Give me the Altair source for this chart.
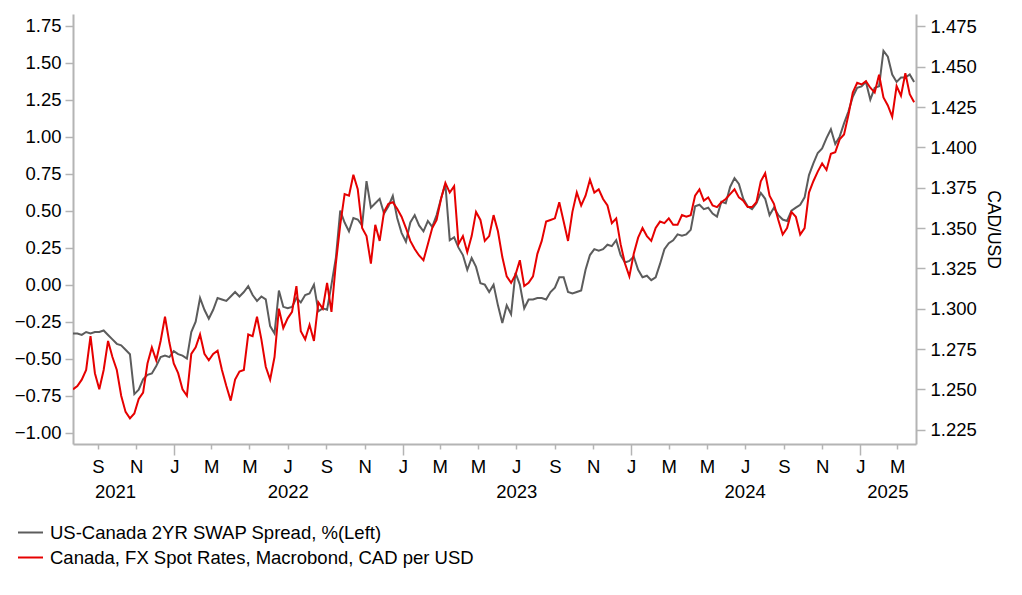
import altair as alt
import pandas as pd

START = "2021-07-23"

spread = [
    -0.33, -0.33, -0.34, -0.32, -0.33, -0.32, -0.32, -0.31, -0.34, -0.37,
    -0.40, -0.41, -0.44, -0.47, -0.74, -0.71, -0.64, -0.61, -0.60, -0.55,
    -0.49, -0.48, -0.49, -0.45, -0.47, -0.48, -0.50, -0.32, -0.25, -0.09,
    -0.17, -0.23, -0.17, -0.09, -0.10, -0.11, -0.08, -0.05, -0.08, -0.05,
    -0.01, -0.07, -0.11, -0.08, -0.10, -0.28, -0.33, -0.04, -0.15, -0.16,
    -0.15,
    -0.09, -0.12, -0.07, -0.06, 0.00, -0.18, -0.16, -0.17, 0.00, 0.18,
    0.50, 0.42, 0.36, 0.45, 0.44, 0.40, 0.70, 0.52, 0.55, 0.58,
    0.48, 0.53, 0.60, 0.45, 0.35, 0.29, 0.42, 0.47, 0.40, 0.36,
    0.43, 0.39, 0.47, 0.58, 0.68, 0.30, 0.32, 0.25, 0.20, 0.10,
    0.18, 0.12, 0.01, 0.00, -0.05, 0.00, -0.14, -0.26,
    -0.14, -0.20, 0.08, 0.00, -0.16, -0.10, -0.10, -0.09, -0.09, -0.10,
    -0.05, -0.02, 0.05, 0.05, -0.05, -0.06, -0.05, -0.04, 0.10, 0.20,
    0.24, 0.23, 0.24, 0.27, 0.26, 0.30, 0.20, 0.15, 0.16, 0.19,
    0.10, 0.05, 0.06, 0.03, 0.05, 0.14, 0.24, 0.28, 0.30, 0.34,
    0.33, 0.34, 0.37, 0.53, 0.54, 0.51, 0.52, 0.48,
    0.46, 0.56, 0.55, 0.66, 0.72, 0.68, 0.58, 0.53, 0.51, 0.55,
    0.62, 0.58, 0.47, 0.52, 0.47, 0.44, 0.43, 0.50, 0.52, 0.54,
    0.59, 0.74, 0.82, 0.89, 0.92, 0.99, 1.05, 0.95, 1.00, 1.09,
    1.17, 1.27, 1.33, 1.34, 1.37, 1.25, 1.33, 1.34, 1.58, 1.54,
    1.42, 1.37, 1.40, 1.40, 1.42, 1.37,
]

fx = [
    1.250, 1.252, 1.256, 1.262, 1.283, 1.260, 1.250, 1.262, 1.280, 1.270,
    1.262, 1.246, 1.236, 1.232, 1.235, 1.244, 1.248, 1.266, 1.276, 1.268,
    1.280, 1.295, 1.279, 1.266, 1.260, 1.250, 1.246, 1.272, 1.276, 1.284,
    1.272, 1.268, 1.272, 1.274, 1.262, 1.252, 1.243, 1.256, 1.261, 1.262,
    1.284, 1.283, 1.295, 1.281, 1.264, 1.256, 1.270, 1.300, 1.288, 1.294,
    1.298,
    1.314, 1.286, 1.281, 1.290, 1.280, 1.304, 1.300, 1.316, 1.298, 1.328,
    1.352, 1.371, 1.370, 1.383, 1.374, 1.350, 1.345, 1.328, 1.352, 1.342,
    1.360, 1.365, 1.366, 1.362, 1.357, 1.350, 1.342, 1.337, 1.333, 1.330,
    1.340, 1.350, 1.355, 1.368, 1.378, 1.372, 1.376, 1.340, 1.345, 1.335,
    1.345, 1.360, 1.355, 1.342, 1.345, 1.358, 1.348, 1.332,
    1.320, 1.316, 1.321, 1.330, 1.314, 1.316, 1.320, 1.334, 1.342, 1.354,
    1.355, 1.356, 1.366, 1.354, 1.342, 1.360, 1.372, 1.364, 1.370, 1.380,
    1.372, 1.374, 1.368, 1.364, 1.353, 1.356, 1.340, 1.328, 1.320, 1.334,
    1.344, 1.350, 1.345, 1.342, 1.350, 1.354, 1.353, 1.356, 1.352, 1.352,
    1.358, 1.357, 1.358, 1.370, 1.374, 1.367, 1.369, 1.364,
    1.363, 1.366, 1.368, 1.371, 1.374, 1.369, 1.367, 1.363, 1.363, 1.366,
    1.379, 1.384, 1.370, 1.365, 1.355, 1.346, 1.350, 1.360, 1.357, 1.346,
    1.350, 1.372, 1.379, 1.385, 1.390, 1.386, 1.396, 1.397, 1.405, 1.408,
    1.420, 1.434, 1.440, 1.439, 1.441, 1.437, 1.434, 1.445, 1.431, 1.426,
    1.419, 1.438, 1.432, 1.446, 1.433, 1.428,
]

years = ["2021", "2022", "2023", "2024", "2025"]
year_pos = ["2021-09-29", "2022-07-02", "2023-07-02", "2024-07-01", "2025-02-14"]

left_ticks = [-1.00, -0.75, -0.50, -0.25, 0.00, 0.25, 0.50, 0.75, 1.00, 1.25, 1.50, 1.75]
right_ticks = [1.225, 1.250, 1.275, 1.300, 1.325, 1.350, 1.375, 1.400, 1.425, 1.450, 1.475]

S1 = "US-Canada 2YR SWAP Spread, %(Left)"
S2 = "Canada, FX Spot Rates, Macrobond, CAD per USD"
GRAY = "#5c5c5c"
RED = "#e60000"
AXC = "#b4b4b4"
FONT = "Liberation Sans"
FS = 18.5

dates = pd.date_range(START, periods=len(spread), freq="7D")
df1 = pd.DataFrame({"date": dates, "value": spread, "series": S1})
df2 = pd.DataFrame({"date": dates, "value": fx, "series": S2})
dfy = pd.DataFrame({"date": pd.to_datetime(year_pos), "label": years})

month_ticks = pd.date_range("2021-09-01", "2025-03-01", freq="2MS")
tick_vals = [alt.DateTime(year=int(d.year), month=int(d.month), date=1) for d in month_ticks]

JAN = "month(datum.value) === 0"
xaxis = alt.Axis(
    values=tick_vals, format="%b", labelExpr="substring(datum.label, 0, 1)",
    title=None, grid=False, domainColor=AXC, domainWidth=2, tickColor=AXC,
    tickWidth=1.5,
    tickSize={"condition": {"test": JAN, "value": 11}, "value": 5},
    labelPadding={"condition": {"test": JAN, "value": 2}, "value": 8},
    labelFont=FONT, labelFontSize=FS, labelColor="black",
)
xenc = alt.X(
    "date:T",
    scale=alt.Scale(domain=[alt.DateTime(year=2021, month=7, date=23),
                            alt.DateTime(year=2025, month=3, date=31)]),
    axis=xaxis,
)
color = alt.Color(
    "series:N",
    scale=alt.Scale(domain=[S1, S2], range=[GRAY, RED]),
    legend=alt.Legend(
        orient="none", legendX=-56, legendY=505, direction="vertical",
        title=None, symbolType="stroke", symbolSize=625, symbolStrokeWidth=2,
        labelFont=FONT, labelFontSize=FS, labelColor="black", labelLimit=0,
        labelOffset=6, padding=0, rowPadding=2,
    ),
)

gray = alt.Chart(df1).mark_line(strokeWidth=2, clip=True).encode(
    x=xenc,
    y=alt.Y("value:Q",
            scale=alt.Scale(domain=[-1.077, 1.829], nice=False, zero=False),
            axis=alt.Axis(orient="left", values=left_ticks, format=".2f", title=None,
                          grid=False, domainColor=AXC, domainWidth=2, tickColor=AXC,
                          tickWidth=1.5, tickSize=8, labelPadding=4, labelFont=FONT,
                          labelFontSize=FS, labelColor="black")),
    color=color,
)
red = alt.Chart(df2).mark_line(strokeWidth=2, clip=True).encode(
    x=xenc,
    y=alt.Y("value:Q",
            scale=alt.Scale(domain=[1.2161, 1.4827], nice=False, zero=False),
            axis=alt.Axis(orient="right", values=right_ticks, format=".3f",
                          title="CAD/USD", titleFont=FONT, titleFontSize=17.5,
                          titleFontWeight="normal", titleColor="black", titlePadding=7,
                          grid=False, domainColor=AXC, domainWidth=2, tickColor=AXC,
                          tickWidth=1.5, tickSize=9, labelPadding=5, labelFont=FONT,
                          labelFontSize=FS, labelColor="black")),
    color=color,
)
yr = alt.Chart(dfy).mark_text(font=FONT, fontSize=FS, color="black", baseline="middle").encode(
    x=xenc,
    y=alt.value(478),
    text="label:N",
)

chart = alt.layer(gray, red, yr).resolve_scale(y="independent").properties(
    width=843, height=430,
    padding={"left": 65, "top": 6, "right": 98, "bottom": 140},
    autosize=alt.AutoSizeParams(type="none"),
    background="white",
).configure_view(stroke=None)

chart.save("out.html", embed_options={"renderer": "svg", "actions": False})
